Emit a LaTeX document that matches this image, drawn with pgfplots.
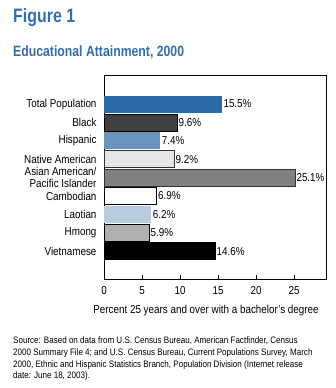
\documentclass[border=0pt]{standalone}
\usepackage{pgfplots}
\pgfplotsset{compat=1.18}
\usepackage{fontspec}
\setmainfont{Liberation Sans}[FakeStretch=0.86]
\newfontfamily\titlefont{Liberation Sans}[FakeStretch=0.82]
\definecolor{titleblue}{RGB}{52,110,175}
\definecolor{c1}{RGB}{46,106,166}
\definecolor{c2}{RGB}{64,64,64}
\definecolor{c3}{RGB}{107,147,192}
\definecolor{c4}{RGB}{230,230,230}
\definecolor{c5}{RGB}{128,128,128}
\definecolor{c6}{RGB}{255,255,255}
\definecolor{c7}{RGB}{184,204,224}
\definecolor{c8}{RGB}{176,176,176}
\definecolor{c9}{RGB}{0,0,0}
\begin{document}
\begin{tikzpicture}
\path[use as bounding box] (0,0) rectangle (336bp,-388bp);
\node[anchor=base west, inner sep=0, text=titleblue, font=\titlefont\bfseries\fontsize{19.5}{22}\selectfont] at (13bp,-22bp) {Figure 1};
\node[anchor=base west, inner sep=0, text=titleblue, font=\titlefont\bfseries\fontsize{15}{18}\selectfont] at (13bp,-56bp) {Educational Attainment, 2000};
\begin{axis}[
  at={(104bp,-75bp)}, anchor=north west,
  width=222bp, height=204bp, scale only axis,
  xbar, bar width=17bp, bar shift=0pt,
  xmin=0, xmax=29.2, ymin=-1.58, ymax=9.52, y dir=reverse,
  xtick={0,5,10,15,20,25},
  xtick pos=bottom, xtick align=inside,
  major tick length=4bp,
  ytick={0,1,2,3,4,5,6,7,8},
  yticklabels={Total Population,Black,Hispanic,Native American,{Asian American/\\Pacific Islander},Cambodian,Laotian,Hmong,Vietnamese},
  y tick label style={align=right, font=\fontsize{11.5}{11.5}\selectfont},
  ytick style={draw=none},
  x tick label style={font=\fontsize{11.5}{12}\selectfont, yshift=-4bp},
  /pgf/number format/assume math mode=true,
  xlabel={Percent 25 years and over with a bachelor's degree},
  xlabel style={font=\fontsize{11.5}{12}\selectfont, xshift=-9bp, yshift=-4bp},
  axis line style={line width=1bp},
  tick style={line width=0.8bp, black},
  nodes near coords={\pgfmathprintnumber[fixed,fixed zerofill,precision=1]{\pgfplotspointmeta}\%},
  nodes near coords style={font=\fontsize{11.5}{12}\selectfont, anchor=west, inner sep=1.5bp, /pgf/number format/assume math mode=true},
]
\addplot[fill=c1, draw=none] coordinates {(15.5,0)};
\addplot[fill=c2, draw=black] coordinates {(9.6,1)};
\addplot[fill=c3, draw=none] coordinates {(7.4,2)};
\addplot[fill=c4, draw=black!80] coordinates {(9.2,3)};
\addplot[fill=c5, draw=black!80] coordinates {(25.1,4)};
\addplot[fill=c6, draw=black] coordinates {(6.9,5)};
\addplot[fill=c7, draw=none] coordinates {(6.2,6)};
\addplot[fill=c8, draw=black] coordinates {(5.9,7)};
\addplot[fill=c9, draw=black] coordinates {(14.6,8)};
\end{axis}
\node[anchor=north west, inner sep=0, align=left, font=\fontsize{9.4}{11.7}\selectfont] at (13bp,-337bp) {Source: Based on data from U.S. Census Bureau, American Factfinder, Census\\2000 Summary File 4; and U.S. Census Bureau, Current Populations Survey, March\\2000, Ethnic and Hispanic Statistics Branch, Population Division (Internet release\\date: June 18, 2003).};
\end{tikzpicture}
\end{document}
